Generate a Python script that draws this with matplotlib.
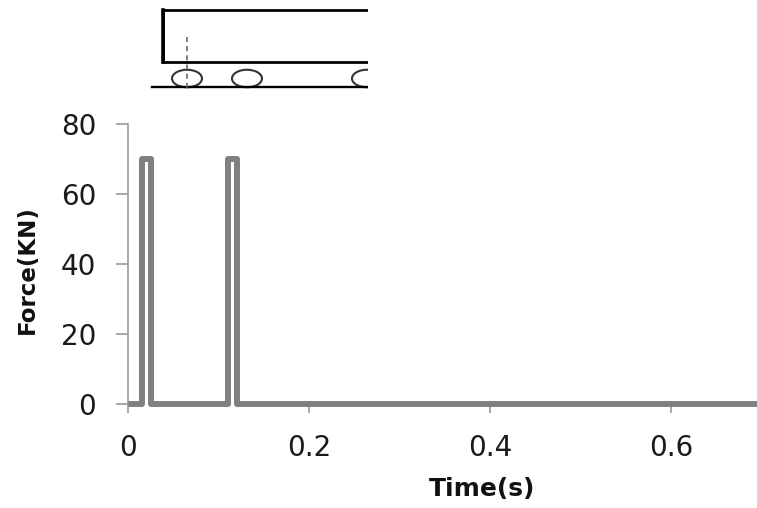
import matplotlib
matplotlib.use("Agg")
import matplotlib.pyplot as plt
from matplotlib.patches import Ellipse

# Data: rectangular force pulses (time in s, force in kN)
time_s = [0.0, 0.015, 0.015, 0.025, 0.025, 0.110, 0.110, 0.120, 0.120, 0.70]
force_kn = [0, 0, 70, 70, 0, 0, 70, 70, 0, 0]
x_ticks = [0, 0.2, 0.4, 0.6]
x_tick_labels = ["0", "0.2", "0.4", "0.6"]
y_ticks = [0, 20, 40, 60, 80]

W, H = 757, 508
fig = plt.figure(figsize=(W / 100, H / 100), dpi=100)
plt.rcParams['font.family'] = ['DejaVu Sans']

ax = fig.add_axes([128 / W, (H - 404) / H, (W - 128) / W, 280 / H])
ax.plot(time_s, force_kn, color="#808080", lw=4.3, solid_joinstyle="round",
        solid_capstyle="butt", clip_on=False)
ax.set_xlim(0, (W - 128) / 905)
ax.set_ylim(0, 80)
ax.set_xticks(x_ticks)
ax.set_xticklabels(x_tick_labels)
ax.set_yticks(y_ticks)
for s in ["top", "right", "bottom"]:
    ax.spines[s].set_visible(False)
ax.spines["left"].set_color("#9a9a9a")
ax.spines["left"].set_linewidth(1.2)
ax.tick_params(axis="y", direction="out", length=9, width=1.2, color="#9a9a9a",
               pad=14, labelsize=20, labelcolor="#1a1a1a")
ax.tick_params(axis="x", direction="out", length=6.5, width=1.2, color="#9a9a9a",
               pad=15, labelsize=20, labelcolor="#1a1a1a")
ax.set_xlabel("Time(s)", fontsize=18, fontweight="bold", color="#111111")
ax.set_ylabel("Force(KN)", fontsize=16.5, fontweight="bold", color="#111111")
ax.xaxis.set_label_coords(0.563, -0.262)
ax.yaxis.set_label_coords(-0.142, 0.48)

# Schematic inset (vehicle on wheels), drawn in pixel coordinates
ix0, ix1, iy0, iy1 = 150, 368, 0, 100
iax = fig.add_axes([ix0 / W, (H - iy1) / H, (ix1 - ix0) / W, (iy1 - iy0) / H])
iax.set_xlim(ix0, ix1)
iax.set_ylim(iy1, iy0)
iax.axis("off")
iax.plot([400, 163, 163, 400], [10, 10, 62, 62], color="black", lw=2.0,
         solid_joinstyle="miter")
iax.plot([163, 163], [10, 62], color="black", lw=2.6)
iax.plot([152, 400], [87, 87], color="black", lw=1.7)
for cx in [187, 247, 367]:
    iax.add_patch(Ellipse((cx, 78.5), 30, 17.5, fill=False, ec="#333333", lw=1.5))
iax.plot([187, 187], [37, 91], color="#666666", lw=1.2, ls=(0, (3, 2.5)))

fig.savefig("out.png", dpi=100)
